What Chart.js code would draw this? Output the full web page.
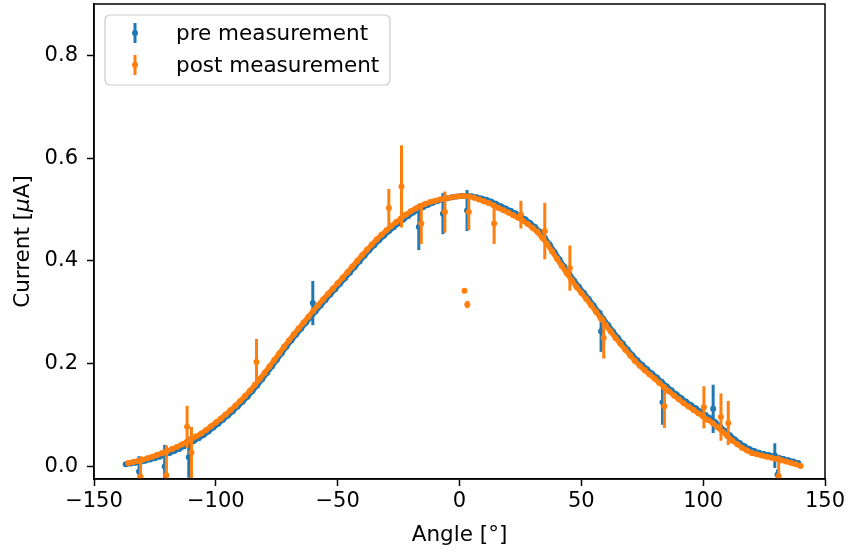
<!DOCTYPE html>
<html>
<head>
<meta charset="utf-8">
<script src="https://cdn.jsdelivr.net/npm/chart.js@4.4.1/dist/chart.umd.min.js"></script>
<style>
  body { margin: 0; background: #fff; }
  #wrap { width: 849px; height: 551px; }
</style>
</head>
<body>
<div id="wrap"><canvas id="myChart" width="849" height="551"></canvas></div>
<script>
// pre measurement (blue) - main sweep
var preAngle = [-137,-135,-133,-131,-129,-127,-125,-123,-121,-119,-117,-115,-113,-111,-109,-107,-105,-103,-101,-99,-97,-95,-93,-91,-89,-87,-85,-83,-81,-79,-77,-75,-73,-71,-69,-67,-65,-63,-61,-59,-57,-55,-53,-51,-49,-47,-45,-43,-41,-39,-37,-35,-33,-31,-29,-27,-25,-23,-21,-19,-17,-15,-13,-11,-9,-7,-5,-3,-1,1,3,5,7,9,11,13,15,17,19,21,23,25,27,29,31,33,35,37,39,41,43,45,47,49,51,53,55,57,59,61,63,65,67,69,71,73,75,77,79,81,83,85,87,89,91,93,95,97,99,101,103,105,107,109,111,113,115,117,119,121,123,125,127,129,131,133,135,137,139];
var preCurrent = [0.004,0.0055,0.007,0.0085,0.011,0.0135,0.016,0.019,0.0225,0.026,0.030,0.034,0.039,0.044,0.0496,0.055,0.061,0.068,0.0755,0.083,0.091,0.099,0.1075,0.1165,0.126,0.1355,0.1465,0.1575,0.1695,0.182,0.1945,0.207,0.220,0.233,0.245,0.2565,0.268,0.2795,0.291,0.302,0.313,0.324,0.3345,0.345,0.3555,0.366,0.377,0.388,0.399,0.410,0.4205,0.4305,0.440,0.449,0.4575,0.4655,0.473,0.4805,0.4875,0.494,0.4995,0.5045,0.509,0.513,0.5165,0.5195,0.522,0.524,0.5255,
  0.5265,0.527,0.526,0.524,0.5215,0.519,0.5155,0.511,0.5065,0.502,0.4975,0.4925,0.487,0.481,0.474,0.466,0.4565,0.445,0.432,0.4175,0.403,0.389,0.3755,0.362,0.3495,0.338,0.326,0.3135,0.3005,0.2875,0.275,0.2625,0.2505,0.239,0.2275,0.2165,0.2065,0.1975,0.189,0.181,0.173,0.1645,0.156,0.148,0.1405,0.133,0.126,0.1195,0.113,0.1065,0.100,0.0935,0.086,0.0775,0.069,0.0605,0.0525,0.0455,0.039,0.034,0.030,0.0265,0.024,0.022,0.0195,0.017,0.0145,0.012,0.0095,0.0065];
// pre measurement - points with big error bars
var preOutAngle = [-131.5,-121,-111.1,-60.2,-16.7,-6.8,3.1,58.1,83.3,104.1,129.4,130.5];
var preOutCurrent = [-0.01,0.0,0.018,0.318,0.466,0.492,0.498,0.263,0.125,0.112,0.021,-0.016];
var preOutError = [0.03,0.042,0.04,0.043,0.045,0.04,0.04,0.04,0.044,0.047,0.024,0.01];

// post measurement (orange) - main sweep
var postAngle = [-136,-134,-132,-130,-128,-126,-124,-122,-120,-118,-116,-114,-112,-110,-108,-106,-104,-102,-100,-98,-96,-94,-92,-90,-88,-86,-84,-82,-80,-78,-76,-74,-72,-70,-68,-66,-64,-62,-60,-58,-56,-54,-52,-50,-48,-46,-44,-42,-40,-38,-36,-34,-32,-30,-28,-26,-24,-22,-20,-18,-16,-14,-12,-10,-8,-6,-4,-2,0,2,4,6,8,10,12,14,16,18,20,22,24,26,28,30,32,34,36,38,40,42,44,46,48,50,52,54,56,58,60,62,64,66,68,70,72,74,76,78,80,82,84,86,88,90,92,94,96,98,100,102,104,106,108,110,112,114,116,118,120,122,124,126,128,130,132,134,136,138,140];
var postCurrent = [0.0065,0.0085,0.0105,0.013,0.016,0.019,0.0225,0.026,0.030,0.034,0.038,0.0425,0.0475,0.053,0.0585,0.064,0.071,0.078,0.0855,0.093,0.101,0.1095,0.118,0.1275,0.137,0.1475,0.1585,0.170,0.182,0.1945,0.207,0.220,0.233,0.245,0.257,0.2685,0.280,0.2915,0.303,0.314,0.325,0.3355,0.346,0.3565,0.367,0.378,0.389,0.400,0.411,0.4215,0.432,0.4415,0.451,0.4595,0.468,0.4755,0.483,0.490,0.4965,0.502,0.507,0.511,0.5145,0.517,0.5195,0.5215,0.523,0.525,
  0.526,
  0.5265,0.5255,0.523,0.5195,0.516,0.5125,0.508,0.503,0.4985,0.494,0.489,0.484,0.478,0.472,0.464,0.456,0.4445,0.433,0.4185,0.404,0.390,0.376,0.3625,0.349,0.3375,0.326,0.3135,0.301,0.288,0.275,0.2625,0.250,0.2385,0.227,0.216,0.205,0.196,0.187,0.179,0.171,0.1625,0.154,0.146,0.138,0.1305,0.123,0.1165,0.110,0.1035,0.097,0.0905,0.084,0.0755,0.067,0.0585,0.050,0.043,0.036,0.031,0.026,0.0235,0.021,0.019,0.017,0.0145,0.012,0.0095,0.007,0.004,0.001];
// post measurement - points with big error bars
var postOutAngle = [-130.9,-120.3,-111.8,-110,-83.3,-29,-23.8,-15.7,-6,2.05,3.2,3.8,14.2,25.2,35,45.3,59.2,84.1,100.3,107.3,110.3,131];
var postOutCurrent = [-0.02,-0.017,0.077,0.027,0.203,0.503,0.545,0.473,0.495,0.342,0.315,0.495,0.473,0.49,0.458,0.386,0.25,0.117,0.115,0.096,0.0845,-0.019];
var postOutError = [0.04,0.058,0.041,0.05,0.045,0.037,0.08,0.04,0.04,0.003,0.007,0.035,0.04,0.027,0.055,0.044,0.04,0.042,0.041,0.046,0.043,0.04];

var sweepError = 0.004; // error of the normal sweep points

var xTicks = [-150,-100,-50,0,50,100,150];
var yTicks = [0.0,0.2,0.4,0.6,0.8];
var seriesNames = ['pre measurement', 'post measurement'];

var preColor = '#1f77b4';
var postColor = '#ff7f0e';
var fontName = '"DejaVu Sans", "Liberation Sans", sans-serif';

function makePoints(ang, cur, err)
{
  var pts = [];
  var n = Math.min(ang.length, cur.length);
  for (var i = 0; i < n; i++) {
    pts.push({x: ang[i], y: cur[i], e: Array.isArray(err) ? err[i] : err});
  }
  return pts;
}

// vertical error bars, drawn just before the markers of each dataset
var errorBars = {
  id: 'errorBars',
  beforeDatasetDraw: function(chart, args) {
    var ds = chart.data.datasets[args.index];
    var xs = chart.scales.x, ys = chart.scales.y, a = chart.chartArea, ctx = chart.ctx;
    ctx.save();
    ctx.beginPath();
    ctx.rect(a.left, a.top, a.right - a.left, a.bottom - a.top);
    ctx.clip();
    ctx.strokeStyle = ds.backgroundColor;
    ctx.lineWidth = 3;
    ds.data.forEach(function(p) {
      var px = xs.getPixelForValue(p.x);
      ctx.beginPath();
      ctx.moveTo(px, ys.getPixelForValue(p.y - p.e));
      ctx.lineTo(px, ys.getPixelForValue(p.y + p.e));
      ctx.stroke();
    });
    ctx.restore();
  }
};

// full box around the axes, y title with italic mu, legend
var frameAndLegend = {
  id: 'frameAndLegend',
  afterDraw: function(chart) {
    var a = chart.chartArea, ctx = chart.ctx;
    ctx.save();
    ctx.strokeStyle = '#000';
    ctx.lineWidth = 1.5;
    ctx.strokeRect(a.left, a.top, a.right - a.left, a.bottom - a.top);

    // y axis title
    var parts = [['Current [', ''], ['\u03bc', 'italic '], ['A]', '']];
    var total = 0;
    parts.forEach(function(p) { ctx.font = p[1] + '21.5px ' + fontName; total += ctx.measureText(p[0]).width; });
    ctx.translate(23, (a.top + a.bottom) / 2);
    ctx.rotate(-Math.PI / 2);
    ctx.fillStyle = '#000';
    ctx.textBaseline = 'middle';
    ctx.textAlign = 'left';
    var tx = -total / 2;
    parts.forEach(function(p) {
      ctx.font = p[1] + '21.5px ' + fontName;
      ctx.fillText(p[0], tx, 0);
      tx += ctx.measureText(p[0]).width;
    });
    ctx.setTransform(1, 0, 0, 1, 0, 0);

    // legend box
    var bx = 105, by = 15, bw = 285, bh = 70, r = 5;
    ctx.beginPath();
    ctx.moveTo(bx + r, by);
    ctx.arcTo(bx + bw, by, bx + bw, by + bh, r);
    ctx.arcTo(bx + bw, by + bh, bx, by + bh, r);
    ctx.arcTo(bx, by + bh, bx, by, r);
    ctx.arcTo(bx, by, bx + bw, by, r);
    ctx.closePath();
    ctx.fillStyle = 'rgba(255,255,255,0.8)';
    ctx.fill();
    ctx.strokeStyle = '#cccccc';
    ctx.lineWidth = 1.2;
    ctx.stroke();

    var cols = [preColor, postColor];
    ctx.font = '21.5px ' + fontName;
    ctx.textBaseline = 'middle';
    for (var i = 0; i < seriesNames.length; i++) {
      var cy = 33 + i * 32;
      ctx.strokeStyle = cols[i];
      ctx.fillStyle = cols[i];
      ctx.lineWidth = 3;
      ctx.beginPath();
      ctx.moveTo(135, cy - 10);
      ctx.lineTo(135, cy + 10);
      ctx.stroke();
      ctx.beginPath();
      ctx.arc(135, cy, 3, 0, Math.PI * 2);
      ctx.fill();
      ctx.fillStyle = '#000';
      ctx.fillText(seriesNames[i], 176, cy + 1);
    }
    ctx.restore();
  }
};

function sweepSet(label, pts, color, order)
{
  return {
    label: label, data: pts, order: order,
    backgroundColor: color, borderColor: color,
    showLine: true, borderWidth: 5, tension: 0,
    pointRadius: 3, pointBorderWidth: 0
  };
}

function outlierSet(label, pts, color, order)
{
  return {
    label: label, data: pts, order: order,
    backgroundColor: color, borderColor: color,
    showLine: false, pointRadius: 3, pointBorderWidth: 0
  };
}

function createChart()
{
  var ctx = document.getElementById('myChart');
  var myChart = new Chart(ctx, {
    type: 'scatter',
    data: {
      datasets: [
        sweepSet(seriesNames[0], makePoints(preAngle, preCurrent, sweepError), preColor, 4),
        outlierSet(seriesNames[0], makePoints(preOutAngle, preOutCurrent, preOutError), preColor, 3),
        sweepSet(seriesNames[1], makePoints(postAngle, postCurrent, sweepError), postColor, 2),
        outlierSet(seriesNames[1], makePoints(postOutAngle, postOutCurrent, postOutError), postColor, 1)
      ]
    },
    options: {
      responsive: false,
      devicePixelRatio: 1,
      animation: false,
      events: [],
      layout: { padding: { top: 4, right: 24, left: 0, bottom: 0 } },
      plugins: { legend: { display: false }, tooltip: { enabled: false } },
      scales: {
        x: {
          type: 'linear',
          min: -150,
          max: 150,
          afterFit: function(s) { s.height = 72; s.paddingLeft = 0; s.paddingRight = 0; },
          afterBuildTicks: function(s) { s.ticks = xTicks.map(function(v) { return {value: v}; }); },
          grid: { drawOnChartArea: false, tickLength: 7, tickWidth: 1.5, tickColor: '#000' },
          border: { color: '#000', width: 1.5 },
          ticks: {
            color: '#000',
            padding: 3,
            maxRotation: 0,
            font: { family: fontName, size: 21 },
            callback: function(v) { return v < 0 ? '\u2212' + (-v) : '' + v; }
          },
          title: { display: true, text: 'Angle [°]', color: '#000', font: { family: fontName, size: 21.5 }, padding: { top: 0, bottom: 3 } }
        },
        y: {
          type: 'linear',
          min: -0.0245,
          max: 0.9,
          afterFit: function(s) { s.width = 94; s.paddingTop = 0; s.paddingBottom = 0; },
          afterBuildTicks: function(s) { s.ticks = yTicks.map(function(v) { return {value: v}; }); },
          grid: { drawOnChartArea: false, tickLength: 7, tickWidth: 1.5, tickColor: '#000' },
          border: { color: '#000', width: 1.5 },
          ticks: {
            color: '#000',
            padding: 9,
            font: { family: fontName, size: 21 },
            callback: function(v) { return v.toFixed(1); }
          },
          title: { display: false }
        }
      }
    },
    plugins: [errorBars, frameAndLegend]
  });
}

createChart();
</script>
</body>
</html>
